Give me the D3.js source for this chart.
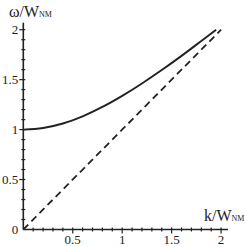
<!DOCTYPE html>
<html>
<head>
<meta charset="utf-8">
<script src="https://cdn.jsdelivr.net/npm/d3@7"></script>
<style>
  html, body { margin: 0; padding: 0; background: #fff; }
  svg text { font-family: "Liberation Serif", "Times New Roman", serif; fill: #222; }
</style>
</head>
<body>
<div id="chart"></div>
<script>
// values
const kValues     = [0, 0.2, 0.4, 0.6, 0.8, 1.0, 1.2, 1.4, 1.6, 1.8, 1.95];
const omegaValues = [1.0, 1.016, 1.061, 1.133, 1.227, 1.338, 1.462, 1.596, 1.738, 1.887, 2.0];
const lightK      = [0, 2];
const lightOmega  = [0, 2];
const xTickLabels = [0.5, 1, 1.5, 2];
const yTickLabels = [0, 0.5, 1, 1.5, 2];

const width = 245, height = 247;
const margin = {top: 22.7, right: 17, bottom: 17.5, left: 23.3};

const svg = d3.select("#chart").append("svg")
    .attr("width", width)
    .attr("height", height);

const x = d3.scaleLinear().domain([0, 2.07]).range([margin.left, width - margin.right]);
const y = d3.scaleLinear().domain([0, 2.07]).range([height - margin.bottom, margin.top]);

const ink = "#222";

// minor ticks every 0.1
let minors = d3.range(1, 21).map(function(i){ return i / 10; });

svg.append("g").selectAll("line")
    .data(minors)
    .enter().append("line")
    .attr("x1", function(d){ return x(d); })
    .attr("x2", function(d){ return x(d); })
    .attr("y1", function(d){ return y(0) - 2; })
    .attr("y2", function(d){ return y(0) + (Math.round(d * 10) % 5 === 0 ? 4 : 2); })
    .attr("stroke", ink).attr("stroke-width", 1.2);

svg.append("g").selectAll("line")
    .data(minors)
    .enter().append("line")
    .attr("y1", function(d){ return y(d); })
    .attr("y2", function(d){ return y(d); })
    .attr("x1", function(d){ return x(0) - (Math.round(d * 10) % 5 === 0 ? 4 : 2); })
    .attr("x2", function(d){ return x(0) + 2; })
    .attr("stroke", ink).attr("stroke-width", 1.2);

// axis lines
svg.append("line")
    .attr("x1", x(0)).attr("x2", x(2.07))
    .attr("y1", y(0)).attr("y2", y(0))
    .attr("stroke", ink).attr("stroke-width", 1.6);
svg.append("line")
    .attr("x1", x(0)).attr("x2", x(0))
    .attr("y1", y(0)).attr("y2", y(2.07))
    .attr("stroke", ink).attr("stroke-width", 1.6);

// tick labels
svg.append("g").selectAll("text")
    .data(xTickLabels)
    .enter().append("text")
    .attr("x", function(d){ return x(d); })
    .attr("y", y(0) + 14)
    .attr("text-anchor", "middle")
    .attr("font-size", 13)
    .text(function(d){ return d; });

svg.append("g").selectAll("text")
    .data(yTickLabels)
    .enter().append("text")
    .attr("x", x(0) - 5)
    .attr("y", function(d){ return y(d) + 4.5; })
    .attr("text-anchor", "end")
    .attr("font-size", 13)
    .text(function(d){ return d; });

// curves
let line = d3.line()
    .x(function(d){ return x(d[0]); })
    .y(function(d){ return y(d[1]); })
    .curve(d3.curveMonotoneX);

svg.append("path")
    .datum(d3.zip(lightK, lightOmega))
    .attr("d", line)
    .attr("fill", "none")
    .attr("stroke", ink)
    .attr("stroke-width", 1.8)
    .attr("stroke-dasharray", "7,4.5");

svg.append("path")
    .datum(d3.zip(kValues, omegaValues))
    .attr("d", line)
    .attr("fill", "none")
    .attr("stroke", ink)
    .attr("stroke-width", 1.9);

// axis titles
let yt = svg.append("text")
    .attr("x", 9)
    .attr("y", 16.5)
    .attr("font-size", 16);
yt.append("tspan").text("ω/W");
yt.append("tspan").attr("font-size", 8).text("NM");

let xt = svg.append("text")
    .attr("x", 204)
    .attr("y", 221)
    .attr("font-size", 16);
xt.append("tspan").text("k/W");
xt.append("tspan").attr("font-size", 8).text("NM");
</script>
</body>
</html>
